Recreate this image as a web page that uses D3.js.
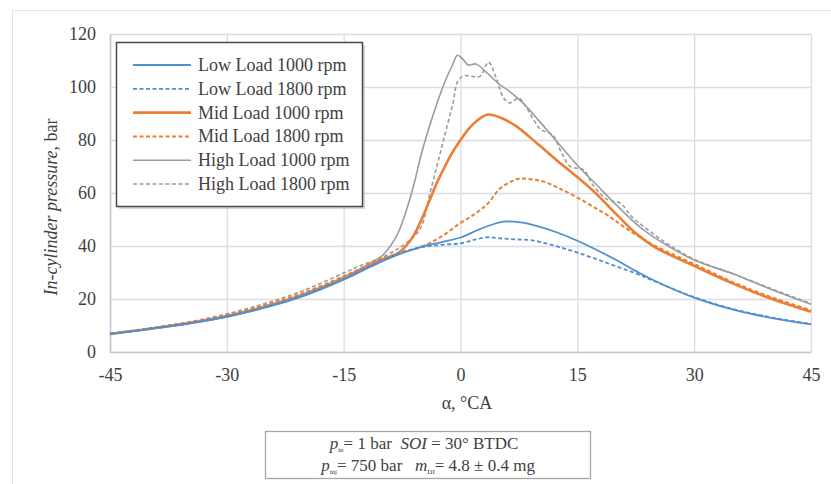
<!DOCTYPE html>
<html>
<head>
<meta charset="utf-8">
<script src="https://cdn.jsdelivr.net/npm/d3@7"></script>
<style>
    body { margin: 0; background: #fff; }
    svg text { font-family: "Liberation Serif", "Times New Roman", serif; fill: #404040; white-space: pre; }
</style>
</head>
<body>
<div id="chart"></div>
<script>
const _WIDTH = 831
const _HEIGHT = 484
const _PLOT = { left: 110, right: 811, top: 34, bottom: 352 }

// Data: [crank angle, pressure]
// ===================================
const lowLoad1000 = [[-45, 6.8], [-40, 8.6], [-35, 10.7], [-30, 13.3], [-25, 16.8], [-20, 21.3], [-15, 27.3], [-12.5, 30.8], [-10, 34.3], [-7.5, 37.3], [-5, 39.7], [-2.5, 41.4], [0, 43.2], [2.5, 46.4], [5.5, 49.2], [8, 48.8], [10, 47.4], [12.5, 45], [15, 42], [17.5, 38.5], [20, 34.7], [22.5, 30.6], [25, 26.8], [30, 20.5], [35, 16], [40, 12.8], [45, 10.4]]
const lowLoad1800 = [[-45, 6.8], [-40, 8.7], [-35, 10.8], [-30, 13.5], [-25, 17.1], [-20, 21.7], [-15, 27.7], [-12.5, 31.2], [-10, 34.6], [-7.5, 37.6], [-5, 39.5], [-2.5, 40.4], [0, 41], [2, 42.5], [3.5, 43.3], [5, 42.9], [7, 42.5], [9, 42.2], [11, 41], [13, 39.3], [15, 37.5], [17.5, 35], [20, 32.3], [22.5, 29.7], [25, 26.6], [30, 20.7], [35, 16.2], [40, 13], [45, 10.6]]
const midLoad1000 = [[-45, 6.8], [-40, 8.7], [-35, 10.8], [-30, 13.5], [-25, 17.1], [-20, 21.7], [-15, 27.7], [-12.5, 31.3], [-10, 35], [-8, 37.3], [-7, 40], [-6, 44], [-5, 50], [-4, 57], [-3, 64], [-2, 70], [-1, 75.5], [0, 80], [1, 84], [2, 87], [3.5, 89.6], [5, 88.6], [7, 85.5], [10, 78.3], [12.5, 72], [15, 66], [17.5, 59.5], [20, 52], [22.5, 44.8], [25, 39.5], [30, 32.5], [35, 25.8], [40, 20], [45, 15.2]]
const midLoad1800 = [[-45, 6.9], [-40, 8.9], [-35, 11.1], [-30, 14], [-25, 17.8], [-20, 22.5], [-15, 28.6], [-12.5, 32], [-10, 35.3], [-7.5, 37.6], [-5, 39.8], [-2.5, 43.5], [0, 48.7], [2, 52.4], [3.5, 56], [5, 61.5], [6.5, 64.3], [7.5, 65.4], [9, 65.2], [10.7, 64.3], [12.5, 62], [15, 58.3], [17.5, 54], [19.3, 50.8], [20.5, 48.2], [22.5, 44.3], [25, 40], [30, 33.2], [35, 26.3], [40, 20.6], [45, 15.8]]
const highLoad1000 = [[-45, 6.8], [-40, 8.7], [-35, 10.9], [-30, 13.7], [-25, 17.4], [-20, 22.1], [-15, 28.2], [-12.5, 32], [-10, 36.5], [-9, 40], [-8, 45], [-7, 53], [-6, 63], [-5, 75], [-4, 85], [-3, 94], [-2, 102], [-1, 108.5], [-0.4, 112], [0.3, 110.5], [1, 108.3], [2, 108.7], [3.4, 105.3], [5, 101], [6, 99], [8, 94], [10, 87.5], [12.5, 79], [15, 70.5], [17.5, 63], [20, 55.5], [23, 47.2], [25, 43], [30, 34.7], [35, 29.5], [37.5, 26.5], [40, 23.5], [45, 18]]
const highLoad1800 = [[-45, 6.9], [-40, 9], [-35, 11.3], [-30, 14.4], [-25, 18.4], [-20, 23.4], [-15, 29.8], [-12.5, 33], [-10, 35.8], [-8, 39], [-7, 41], [-6, 43.5], [-5, 47.5], [-4, 59], [-3, 70.5], [-2, 82], [-1, 93.5], [-0.3, 102.5], [0.5, 104.3], [1.5, 104], [2.5, 104], [3.6, 109.4], [4.5, 104], [5.5, 96], [6.3, 94], [7.5, 95.8], [8.5, 92], [10.3, 84], [11.8, 82], [13, 75], [14.1, 70], [15.8, 68.7], [17, 63], [18.9, 57.4], [20.5, 56.2], [22, 51], [25.3, 43.4], [27, 40], [30, 35], [35, 29.5], [40, 23.8], [45, 18.3]]

const seriesNames = ["Low Load 1000 rpm", "Low Load 1800 rpm", "Mid Load 1000 rpm", "Mid Load 1800 rpm", "High Load 1000 rpm", "High Load 1800 rpm"]
const seriesData = [lowLoad1000, lowLoad1800, midLoad1000, midLoad1800, highLoad1000, highLoad1800]
const seriesColors = ["#4f8fd2", "#4f8fd2", "#ed7d31", "#ed7d31", "#9c9c9c", "#9c9c9c"]
const seriesDashed = [false, true, false, true, false, true]
const seriesWidths = [1.8, 1.8, 2.6, 2, 1.6, 1.6]

const xTicks = [-45, -30, -15, 0, 15, 30, 45]
const yTicks = [0, 20, 40, 60, 80, 100, 120]

const xScale = d3.scaleLinear().domain([-45, 45]).range([_PLOT.left, _PLOT.right])
const yScale = d3.scaleLinear().domain([0, 120]).range([_PLOT.bottom, _PLOT.top])

const svg = d3
    .select("#chart")
    .append("svg")
    .attr("width", _WIDTH)
    .attr("height", _HEIGHT)

// Outer frame
// ===================================
svg.append("rect")
    .attr("x", 12.5).attr("y", 10.5)
    .attr("width", 900).attr("height", 600)
    .attr("fill", "none")
    .attr("stroke", "#e4e4e4")

// Grid
// ===================================
svg.append("g")
    .attr("class", "x-grid")
    .attr("transform", `translate(0,${_PLOT.bottom})`)
    .call(d3.axisBottom(xScale).tickValues(xTicks).tickSize(-(_PLOT.bottom - _PLOT.top)).tickFormat(""))
    .call(g => g.select(".domain").remove())
    .selectAll("line").attr("stroke", "#dcdce8").attr("stroke-width", 1.3)

svg.append("g")
    .attr("class", "y-grid")
    .attr("transform", `translate(${_PLOT.left},0)`)
    .call(d3.axisLeft(yScale).tickValues(yTicks).tickSize(-(_PLOT.right - _PLOT.left)).tickFormat(""))
    .call(g => g.select(".domain").remove())
    .selectAll("line").attr("stroke", "#dcdce8").attr("stroke-width", 1.3)

// Axes
// ===================================
const xAxis = svg.append("g")
    .attr("class", "x-axis")
    .attr("transform", `translate(0,${_PLOT.bottom})`)
    .call(d3.axisBottom(xScale).tickValues(xTicks).tickSize(0).tickPadding(16).tickFormat(d => String(d)))
    .attr("font-family", "Liberation Serif")
xAxis.select(".domain").attr("stroke", "#c4c4d2").attr("stroke-width", 1.6)
xAxis.selectAll("text").attr("font-size", 18).attr("fill", "#404040")

const yAxis = svg.append("g")
    .attr("class", "y-axis")
    .attr("transform", `translate(${_PLOT.left},0)`)
    .call(d3.axisLeft(yScale).tickValues(yTicks).tickSize(0).tickPadding(14).tickFormat(d => String(d)))
    .attr("font-family", "Liberation Serif")
yAxis.select(".domain").attr("stroke", "#c4c4d2").attr("stroke-width", 1.6)
yAxis.selectAll("text").attr("font-size", 18).attr("fill", "#404040")

// Axis titles
svg.append("text")
    .attr("x", 467).attr("y", 409)
    .attr("text-anchor", "middle")
    .attr("font-size", 18)
    .text("α, °CA")

const yTitle = svg.append("text")
    .attr("transform", "translate(57,207)rotate(-90)")
    .attr("text-anchor", "middle")
    .attr("font-size", 18)
yTitle.append("tspan").attr("font-style", "italic").text("In-cylinder pressure")
yTitle.append("tspan").text(", bar")

// Lines
// ===================================
const line = d3.line()
    .x(d => xScale(d[0]))
    .y(d => yScale(d[1]))
    .curve(d3.curveCatmullRom.alpha(0.5))

// draw back to front: low load on top like the reference
const drawOrder = [4, 5, 2, 3, 0, 1]
svg.append("g")
    .attr("class", "lines")
    .selectAll("path")
    .data(drawOrder)
    .join("path")
    .attr("fill", "none")
    .attr("stroke", i => seriesColors[i])
    .attr("stroke-width", i => seriesWidths[i])
    .attr("stroke-dasharray", i => seriesDashed[i] ? "4,2.5" : null)
    .attr("stroke-linejoin", "round")
    .attr("d", i => line(seriesData[i]))

// Legend
// ===================================
const legend = svg.append("g").attr("class", "legend")
legend.append("rect")
    .attr("x", 119).attr("y", 45)
    .attr("width", 246).attr("height", 164)
    .attr("fill", "#bdbdbd")
    .attr("opacity", 0.6)
legend.append("rect")
    .attr("x", 116.5).attr("y", 42.5)
    .attr("width", 246).attr("height", 164)
    .attr("fill", "#fff")
    .attr("stroke", "#4a4a4a")
    .attr("stroke-width", 1.5)

const rows = legend.selectAll("g.row")
    .data(seriesNames)
    .join("g")
    .attr("class", "row")
    .attr("transform", (d, i) => `translate(0,${65 + i * 23.8})`)
rows.append("line")
    .attr("x1", 133).attr("x2", 191)
    .attr("stroke", (d, i) => seriesColors[i])
    .attr("stroke-width", (d, i) => seriesWidths[i])
    .attr("stroke-dasharray", (d, i) => seriesDashed[i] ? "4,2.5" : null)
rows.append("text")
    .attr("x", 198).attr("dy", "0.33em")
    .attr("font-size", 18)
    .text(d => d)

// Conditions box
// ===================================
const note = svg.append("g").attr("class", "note")
note.append("rect")
    .attr("x", 265.5).attr("y", 431.5)
    .attr("width", 325).attr("height", 47)
    .attr("fill", "#fff")
    .attr("stroke", "#a6a6a6")
    .attr("stroke-width", 1.3)

const line1 = note.append("text")
    .attr("x", 424).attr("y", 449)
    .attr("text-anchor", "middle")
    .attr("font-size", 17)
line1.append("tspan").attr("font-style", "italic").text("p")
line1.append("tspan").attr("font-size", 7).attr("dy", 3).text("in")
line1.append("tspan").attr("dy", -3).text("= 1 bar  ")
line1.append("tspan").attr("font-style", "italic").text("SOI")
line1.append("tspan").text(" = 30° BTDC")

const line2 = note.append("text")
    .attr("x", 428).attr("y", 471)
    .attr("text-anchor", "middle")
    .attr("font-size", 17)
line2.append("tspan").attr("font-style", "italic").text("p")
line2.append("tspan").attr("font-size", 7).attr("dy", 3).text("inj")
line2.append("tspan").attr("dy", -3).text("= 750 bar   ")
line2.append("tspan").attr("font-style", "italic").text("m")
line2.append("tspan").attr("font-size", 7).attr("dy", 3).text("DI")
line2.append("tspan").attr("dy", -3).text("= 4.8 ± 0.4 mg")
</script>
</body>
</html>
